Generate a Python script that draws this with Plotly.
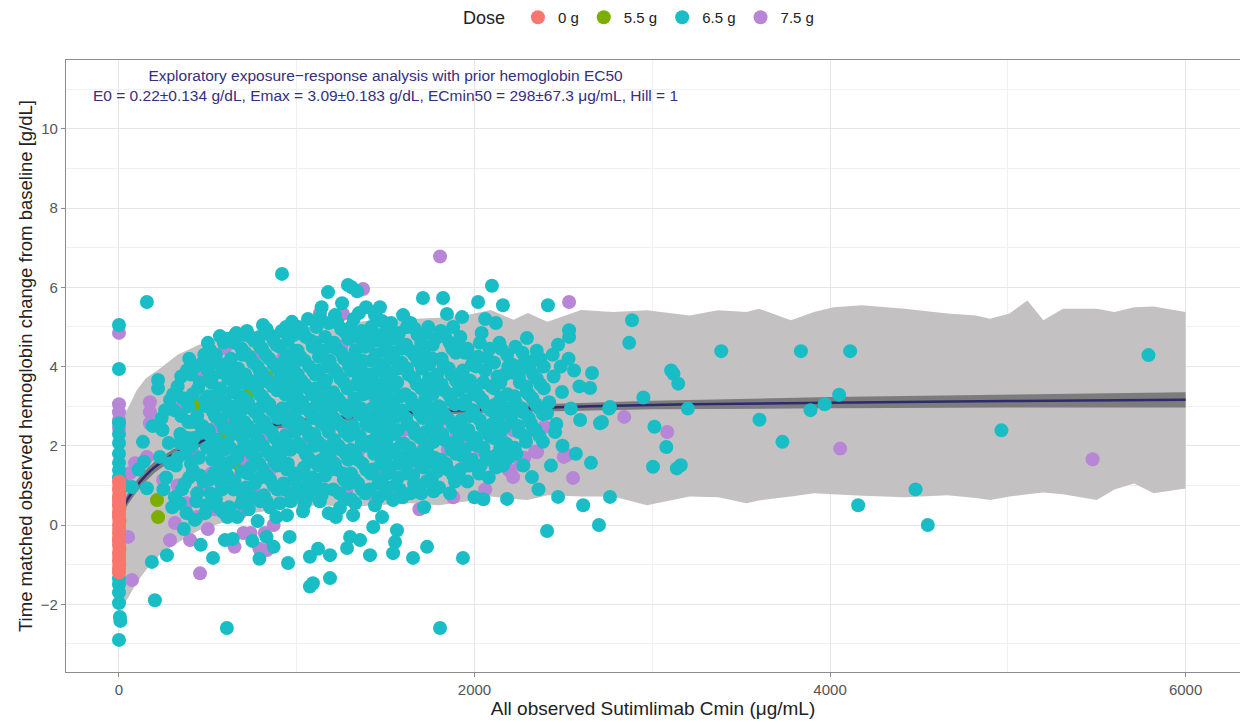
import plotly.graph_objects as go

# Prediction interval (light grey band)
pi_x = [0, 25, 50, 100, 150, 230, 330, 450, 570, 750, 950, 1130, 1300, 1470, 1640,
        1800, 1960, 2090, 2220, 2300, 2410, 2600, 2780, 2970, 3210, 3370, 3530, 3600,
        3780, 3910, 4020, 4180, 4420, 4660, 4820, 4900, 5010, 5110, 5200, 5310, 5500,
        5600, 5710, 5820, 6000]
pi_hi = [2.5, 2.75, 2.95, 3.4, 3.7, 3.95, 4.3, 4.55, 4.7, 4.85, 4.97, 5.0, 5.1, 5.2, 5.2,
         5.23, 5.3, 5.43, 5.18, 5.35, 5.13, 5.43, 5.38, 5.42, 5.29, 5.42, 5.38, 5.46,
         5.17, 5.38, 5.5, 5.55, 5.46, 5.34, 5.29, 5.21, 5.34, 5.67, 5.17, 5.46, 5.46,
         5.38, 5.5, 5.52, 5.38]
pi_lo = [-2.1, -2.0, -1.85, -1.45, -1.15, -0.75, -0.45, -0.13, 0.05, 0.3, 0.45, 0.5, 0.46,
         0.5, 0.55, 0.5, 0.6, 0.72, 0.66, 0.63, 0.75, 0.72, 0.72, 0.5, 0.72, 0.7, 0.55,
         0.62, 0.72, 0.8, 0.78, 0.74, 0.7, 0.75, 0.68, 0.63, 0.72, 0.78, 0.82, 0.78, 0.63,
         0.9, 1.05, 0.8, 0.92]

# Emax fit line and its confidence band
fit_x = [0, 25, 50, 100, 150, 200, 300, 400, 500, 750, 1000, 1500, 2000, 3000, 4000, 5000, 6000]
fit_y = [0.22, 0.46, 0.66, 0.99, 1.25, 1.46, 1.77, 1.99, 2.16, 2.43, 2.60, 2.80, 2.91, 3.03, 3.09, 3.13, 3.16]
fit_lo = [0.09, 0.33, 0.52, 0.84, 1.1, 1.32, 1.64, 1.87, 2.05, 2.33, 2.51, 2.72, 2.83, 2.92, 2.95, 2.97, 2.97]
fit_hi = [0.35, 0.6, 0.8, 1.13, 1.39, 1.6, 1.9, 2.11, 2.27, 2.53, 2.69, 2.88, 3.0, 3.14, 3.23, 3.29, 3.35]

# observed points, one list per dose
dose_0g = [(0, 1.1), (2, 1.0), (0, 0.9), (3, 0.8), (0, 0.7), (1, 0.6), (0, 0.5), (2, 0.4),
           (0, 0.3), (0, 0.2), (3, 0.1), (0, 0.0), (1, -0.1), (0, -0.2), (2, -0.3),
           (0, -0.4), (0, -0.5), (3, -0.6), (0, -0.7), (1, -0.8), (0, -0.9), (2, -1.0),
           (0, -1.1), (0, -1.2), (1, 0.65), (0, -0.35)]

dose_55g = [(439, 3.03), (473, 3.74), (793, 4.5), (680, 2.98), (664, 1.56), (214, 0.63),
            (220, 0.2), (832, 3.74), (1170, 3.23), (1395, 2.83), (720, 3.28), (973, 2.47),
            (400, 2.6), (560, 3.2), (600, 2.2)]

dose_65g = [
    (0, 5.05), (0, 3.94), (0, 2.57), (0, 2.3), (0, 2.07), (0, 1.8), (0, 1.57), (0, 1.39),
    (0, 1.2), (0, -1.35), (0, -1.5), (0, -1.7), (0, -1.97), (5, -2.32), (8, -2.42), (0, -2.9),
    (30, 1.0), (73, 0.96), (110, 1.4), (135, 2.1), (157, 0.93), (185, -0.93), (157, 5.63),
    (140, 1.6), (190, 2.5),
    (220, 3.66), (220, 3.45), (287, 3.16), (260, 2.9), (245, 2.4), (280, 2.07), (230, 1.72),
    (287, 1.56), (265, 1.2), (300, 0.45), (270, -0.76), (202, -1.9), (250, 0.9), (240, 2.7),
    (383, 3.91), (330, 3.5), (360, 3.2), (310, 2.9), (390, 2.6), (345, 2.3), (343, 2.07),
    (375, 1.8), (320, 1.5), (395, 1.2), (355, 0.9), (343, 0.55), (380, 0.3), (365, -0.1),
    (395, 4.2), (390, 3.0),
    (305, 3.3), (350, 2.75), (385, 2.2), (330, 1.7), (370, 1.05), (315, 0.7), (350, 3.75),
    (480, 4.3), (430, 4.0), (455, 3.6), (415, 3.3), (490, 3.0), (440, 2.75), (470, 2.5),
    (420, 2.2), (495, 1.95), (450, 1.7), (416, 1.39), (475, 1.1), (440, 0.8), (427, 0.13),
    (490, 0.5), (460, -0.5), (410, 2.0), (500, 3.9),
    (405, 3.8), (445, 3.45), (485, 3.15), (425, 2.6), (465, 2.35), (405, 1.55), (455, 1.25),
    (485, 0.3), (435, 0.6), (470, 4.1),
    (568, 4.77), (512, 4.42), (590, 4.6), (540, 4.1), (580, 3.85), (520, 3.6), (560, 3.35),
    (595, 3.1), (530, 2.85), (575, 2.6), (505, 2.4), (550, 2.15), (590, 1.9), (525, 1.65),
    (565, 1.4), (510, 1.15), (580, 0.9), (545, 0.65), (585, 0.33), (596, -0.38), (529, -0.83),
    (530, 2.0), (550, 3.0), (607, -2.6),
    (500, 4.6), (545, 4.3), (585, 4.05), (525, 3.75), (570, 3.45), (505, 3.25), (540, 2.75),
    (590, 2.45), (515, 2.25), (560, 1.8), (595, 1.55), (535, 1.3), (575, 1.05), (515, 0.8),
    (560, 0.45),
    (610, 4.7), (660, 4.85), (690, 4.45), (630, 4.2), (670, 3.95), (615, 3.7), (650, 3.5),
    (685, 3.25), (625, 3.0), (660, 2.75), (695, 2.5), (640, 2.3), (610, 2.05), (675, 1.85),
    (630, 1.6), (690, 1.35), (650, 1.1), (698, 0.71), (620, 0.45), (665, 0.2), (640, -0.35),
    (605, 4.0), (690, 2.9), (605, 1.5),
    (650, 4.6), (695, 4.3), (625, 4.1), (665, 3.8), (700, 3.6), (635, 3.35), (680, 3.1),
    (615, 2.85), (655, 2.6), (695, 2.2), (625, 1.95), (665, 1.7), (610, 1.25), (645, 0.9),
    (690, 0.55), (610, 0.2),
    (720, 4.9), (760, 4.65), (795, 4.5), (735, 4.25), (780, 4.0), (710, 3.8), (750, 3.55),
    (790, 3.3), (725, 3.1), (765, 2.85), (705, 2.6), (745, 2.4), (785, 2.15), (720, 1.95),
    (770, 1.7), (740, 1.45), (795, 1.2), (715, 0.95), (760, 0.7), (730, 0.4), (780, 0.1),
    (750, -0.4), (790, -0.85), (790, 3.6), (760, 2.0), (700, 4.8),
    (740, 4.75), (790, 4.75), (710, 4.35), (755, 4.1), (795, 3.85), (735, 3.65), (775, 3.45),
    (705, 3.2), (745, 2.95), (790, 2.7), (725, 2.5), (770, 2.25), (705, 2.05), (745, 1.8),
    (790, 1.55), (725, 1.3), (765, 1.05), (705, 0.7), (795, 0.6),
    (810, 5.05), (850, 4.8), (885, 4.55), (825, 4.3), (870, 4.05), (805, 3.85), (845, 3.6),
    (890, 3.4), (820, 3.15), (860, 2.9), (895, 2.7), (835, 2.45), (875, 2.2), (810, 2.0),
    (855, 1.75), (890, 1.5), (830, 1.25), (870, 1.0), (815, 0.75), (850, 0.45), (885, 0.2),
    (830, -0.3), (870, -0.55), (805, 3.0), (805, 2.5), (895, 4.0),
    (830, 4.95), (870, 4.65), (805, 4.45), (845, 4.2), (890, 3.95), (825, 3.7), (865, 3.5),
    (805, 3.25), (845, 3.05), (885, 2.8), (820, 2.6), (860, 2.35), (895, 2.1), (835, 1.85),
    (875, 1.6), (810, 1.4), (850, 1.15), (890, 0.9), (830, 0.6),
    (917, 6.34), (973, 5.13), (915, 4.9), (950, 4.65), (990, 4.4), (930, 4.15), (965, 3.9),
    (905, 3.7), (945, 3.45), (985, 3.2), (920, 2.95), (960, 2.7), (995, 2.47), (935, 2.25),
    (975, 2.0), (910, 1.8), (950, 1.55), (990, 1.3), (925, 1.05), (965, 0.8), (905, 0.55),
    (945, 0.25), (951, -0.96), (960, -0.3), (1000, 3.0), (900, 2.0),
    (940, 5.0), (985, 4.8), (905, 4.5), (945, 4.3), (985, 4.05), (920, 3.8), (960, 3.6),
    (1000, 3.4), (935, 3.3), (975, 3.05), (910, 2.85), (950, 2.6), (990, 2.35), (925, 2.1),
    (965, 1.9), (905, 1.65), (945, 1.4), (985, 1.15), (925, 0.9), (965, 0.6),
    (1063, 5.2), (1010, 5.0), (1050, 4.75), (1090, 4.5), (1020, 4.25), (1070, 4.0),
    (1005, 3.8), (1045, 3.55), (1085, 3.3), (1030, 3.1), (1075, 2.85), (1010, 2.6),
    (1055, 2.4), (1095, 2.15), (1025, 1.95), (1065, 1.7), (1040, 1.45), (1085, 1.2),
    (1015, 0.95), (1060, 0.7), (1035, 0.35), (1074, -0.8), (1091, -1.47), (1074, -1.55),
    (1095, 3.9), (1000, 2.9),
    (1035, 4.9), (1080, 4.65), (1005, 4.4), (1045, 4.15), (1090, 3.9), (1025, 3.65),
    (1065, 3.45), (1005, 3.2), (1050, 2.95), (1090, 2.7), (1030, 2.5), (1070, 2.25),
    (1010, 2.05), (1050, 1.8), (1090, 1.6), (1025, 1.3), (1065, 1.05), (1005, 0.8),
    (1045, 0.55), (1090, 0.9),
    (1176, 5.88), (1140, 5.5), (1110, 5.0), (1160, 4.75), (1195, 4.5), (1125, 4.25),
    (1170, 4.0), (1105, 3.8), (1150, 3.55), (1190, 3.3), (1115, 3.05), (1160, 2.8),
    (1135, 2.6), (1180, 2.35), (1120, 2.1), (1165, 1.9), (1140, 1.65), (1190, 1.4),
    (1110, 1.15), (1155, 0.9), (1130, 0.6), (1180, 0.3), (1187, -1.34), (1187, -0.76),
    (1120, -0.6), (1100, 2.0),
    (1130, 5.25), (1180, 5.1), (1105, 4.6), (1145, 4.4), (1185, 4.15), (1125, 3.9),
    (1165, 3.65), (1105, 3.45), (1140, 3.2), (1185, 2.95), (1125, 2.7), (1165, 2.5),
    (1100, 2.3), (1145, 2.0), (1185, 1.75), (1120, 1.5), (1160, 1.25), (1100, 0.95),
    (1140, 0.75),
    (1288, 6.06), (1255, 5.6), (1215, 5.3), (1250, 4.95), (1290, 4.7), (1225, 4.45),
    (1265, 4.2), (1205, 3.95), (1245, 3.7), (1285, 3.45), (1230, 3.2), (1270, 2.95),
    (1210, 2.7), (1255, 2.5), (1295, 2.25), (1235, 2.0), (1275, 1.8), (1215, 1.55),
    (1260, 1.3), (1290, 1.05), (1240, 0.8), (1243, 0.43), (1220, 0.2), (1283, -0.58),
    (1300, -0.3), (1205, 3.0), (1295, 4.0),
    (1230, 5.1), (1275, 4.85), (1210, 4.6), (1250, 4.35), (1290, 4.1), (1225, 3.85),
    (1265, 3.6), (1205, 3.35), (1245, 3.1), (1290, 2.85), (1230, 2.6), (1270, 2.35),
    (1210, 2.15), (1250, 1.9), (1290, 1.65), (1225, 1.4), (1265, 1.15), (1205, 0.9),
    (1270, 0.65),
    (1310, 6.0), (1340, 5.9), (1390, 5.5), (1320, 5.2), (1365, 4.9), (1395, 4.65),
    (1330, 4.4), (1370, 4.15), (1305, 3.9), (1350, 3.7), (1385, 3.45), (1325, 3.2),
    (1360, 2.95), (1395, 2.7), (1315, 2.5), (1355, 2.25), (1390, 2.0), (1330, 1.8),
    (1370, 1.55), (1305, 1.3), (1345, 1.05), (1385, 0.8), (1328, 0.55), (1317, 0.25),
    (1356, -0.38), (1412, -0.76), (1300, 3.0),
    (1350, 5.35), (1305, 5.0), (1345, 4.75), (1385, 4.5), (1320, 4.25), (1360, 4.0),
    (1400, 3.8), (1335, 3.55), (1375, 3.3), (1310, 3.05), (1350, 2.8), (1390, 2.55),
    (1325, 2.35), (1365, 2.1), (1305, 1.9), (1345, 1.65), (1390, 1.4), (1325, 1.15),
    (1365, 0.9), (1305, 0.65),
    (1468, 5.5), (1480, 5.15), (1410, 4.9), (1455, 4.65), (1495, 4.4), (1420, 4.15),
    (1465, 3.9), (1405, 3.7), (1445, 3.45), (1490, 3.2), (1425, 2.95), (1470, 2.7),
    (1410, 2.5), (1450, 2.25), (1495, 2.0), (1435, 1.8), (1475, 1.55), (1415, 1.3),
    (1460, 1.05), (1500, 0.8), (1440, 0.5), (1430, -0.05), (1480, 0.2), (1500, 2.6),
    (1440, 5.3), (1420, 5.0), (1470, 4.8), (1405, 4.55), (1445, 4.3), (1490, 4.05),
    (1425, 3.8), (1470, 3.55), (1410, 3.35), (1450, 3.1), (1495, 2.85), (1430, 2.6),
    (1475, 2.35), (1410, 2.1), (1455, 1.9), (1495, 1.65), (1430, 1.4), (1475, 1.15),
    (1410, 0.9), (1460, 0.7),
    (1598, 5.3), (1510, 4.95), (1550, 4.7), (1590, 4.45), (1525, 4.2), (1570, 3.95),
    (1505, 3.75), (1545, 3.5), (1585, 3.25), (1520, 3.0), (1565, 2.75), (1505, 2.5),
    (1545, 2.3), (1590, 2.05), (1530, 1.8), (1575, 1.55), (1510, 1.3), (1555, 1.0),
    (1595, 0.7), (1542, 0.63), (1564, -0.13), (1553, -0.43), (1542, -0.71), (1600, 4.0),
    (1530, 5.1), (1575, 4.85), (1505, 4.6), (1545, 4.35), (1590, 4.1), (1525, 3.85),
    (1565, 3.6), (1505, 3.4), (1545, 3.15), (1590, 2.9), (1525, 2.65), (1570, 2.4),
    (1505, 2.15), (1550, 1.9), (1590, 1.7), (1525, 1.45), (1570, 1.2), (1510, 0.95),
    (1580, 0.9),
    (1710, 5.73), (1640, 5.1), (1680, 4.8), (1615, 4.55), (1660, 4.3), (1700, 4.05),
    (1630, 3.8), (1675, 3.55), (1610, 3.3), (1650, 3.05), (1695, 2.8), (1625, 2.55),
    (1665, 2.3), (1605, 2.05), (1645, 1.8), (1690, 1.55), (1620, 1.3), (1660, 1.05),
    (1700, 0.8), (1716, 0.45), (1654, -0.83), (1733, -0.55),
    (1620, 5.0), (1665, 4.95), (1700, 4.6), (1640, 4.4), (1680, 4.15), (1620, 3.95),
    (1660, 3.7), (1700, 3.45), (1640, 3.2), (1680, 2.95), (1615, 2.7), (1655, 2.45),
    (1695, 2.2), (1635, 1.95), (1675, 1.7), (1615, 1.5), (1655, 1.25), (1695, 1.0),
    (1640, 0.8),
    (1823, 5.73), (1740, 5.0), (1780, 4.7), (1720, 4.45), (1765, 4.2), (1705, 3.95),
    (1745, 3.7), (1790, 3.45), (1725, 3.2), (1770, 2.95), (1710, 2.7), (1755, 2.45),
    (1795, 2.2), (1735, 1.95), (1775, 1.7), (1715, 1.45), (1760, 1.2), (1800, 0.95),
    (1800, 3.0), (1806, -2.6),
    (1725, 4.85), (1765, 4.55), (1705, 4.3), (1745, 4.05), (1790, 3.8), (1725, 3.55),
    (1765, 3.3), (1705, 3.05), (1745, 2.8), (1790, 2.6), (1725, 2.35), (1770, 2.1),
    (1705, 1.85), (1750, 1.6), (1790, 1.35), (1730, 1.1), (1770, 0.85),
    (1845, 5.33), (1880, 5.0), (1810, 4.9), (1860, 4.6), (1895, 4.35), (1825, 4.05),
    (1870, 3.8), (1815, 3.55), (1855, 3.3), (1890, 3.05), (1830, 2.8), (1875, 2.55),
    (1820, 2.3), (1860, 2.05), (1895, 1.8), (1840, 1.55), (1880, 1.25), (1862, 0.8),
    (1935, -0.83),
    (1835, 4.75), (1875, 4.45), (1815, 4.2), (1855, 3.95), (1895, 3.65), (1830, 3.4),
    (1870, 3.15), (1810, 2.95), (1850, 2.7), (1890, 2.45), (1830, 2.15), (1870, 1.9),
    (1810, 1.65), (1850, 1.4), (1890, 1.1),
    (1930, 5.25), (2020, 5.63), (1920, 4.75), (1960, 4.45), (1995, 4.2), (1935, 3.9),
    (1975, 3.65), (1910, 3.4), (1950, 3.15), (1990, 2.9), (1925, 2.65), (1965, 2.4),
    (1905, 2.15), (1945, 1.9), (1985, 1.65), (1920, 1.4), (1960, 1.1), (2000, 0.7),
    (1905, 4.6), (1945, 4.35), (1985, 4.05), (1920, 3.8), (1960, 3.5), (2000, 3.3),
    (1935, 3.05), (1975, 2.75), (1910, 2.55), (1950, 2.3), (1990, 2.05), (1930, 1.75),
    (1970, 1.5), (1910, 1.25),
    (2098, 6.04), (2060, 5.2), (2030, 4.6), (2070, 4.22), (2010, 4.0), (2050, 3.6),
    (2095, 3.5), (2025, 3.25), (2070, 3.0), (2005, 2.75), (2045, 2.5), (2085, 2.25),
    (2020, 2.0), (2065, 1.75), (2035, 1.5), (2080, 1.2), (2050, 0.65),
    (2040, 4.85), (2085, 4.45), (2020, 4.25), (2060, 3.9), (2005, 3.4), (2045, 3.15),
    (2090, 2.9), (2030, 2.65), (2070, 2.4), (2010, 2.2), (2050, 1.95), (2090, 1.65),
    (2025, 1.3),
    (2160, 5.55), (2183, 4.29), (2130, 3.75), (2170, 3.8), (2110, 3.45), (2150, 3.2),
    (2195, 2.95), (2125, 2.7), (2165, 2.45), (2105, 2.2), (2145, 1.95), (2190, 1.7),
    (2120, 1.45), (2183, 0.66), (2120, 5.1), (2140, 4.6),
    (2150, 4.45), (2110, 4.1), (2190, 4.0), (2145, 3.6), (2185, 3.3), (2120, 3.05),
    (2160, 2.8), (2100, 2.55), (2140, 2.3), (2180, 2.05), (2120, 1.75), (2160, 1.5),
    (2295, 4.72), (2240, 4.0), (2280, 4.1), (2215, 3.85), (2255, 3.6), (2295, 3.35),
    (2230, 3.1), (2270, 2.85), (2210, 2.6), (2250, 2.35), (2290, 2.1), (2235, 1.8),
    (2275, 1.5), (2323, 1.21),
    (2230, 4.5), (2270, 4.35), (2210, 4.05), (2250, 3.75), (2290, 3.5), (2225, 3.25),
    (2265, 2.95), (2205, 2.75), (2245, 2.5), (2285, 2.25), (2225, 1.95),
    (2330, 4.15), (2370, 4.2), (2310, 3.95), (2350, 3.7), (2390, 3.45), (2325, 3.2),
    (2365, 2.95), (2305, 2.7), (2345, 2.4), (2385, 2.1), (2360, 0.9),
    (2350, 4.4), (2390, 4.0), (2330, 3.8), (2370, 3.55), (2305, 3.3), (2345, 3.05),
    (2385, 2.8), (2320, 2.55), (2365, 2.25),
    (2413, 5.55), (2440, 4.3), (2470, 4.55), (2485, 4.0), (2445, 3.75), (2492, 3.36),
    (2420, 3.1), (2408, 2.82), (2460, 2.55), (2453, 2.35), (2495, 2.0), (2470, 0.71),
    (2408, -0.15), (2430, 1.5),
    (2532, 4.92), (2532, 4.75), (2529, 4.2), (2560, 3.9), (2590, 3.5), (2542, 2.94),
    (2594, 2.65), (2611, 0.5), (2570, 1.8),
    (2661, 3.84), (2650, 3.46), (2655, 1.57), (2757, 2.94), (2706, 2.57), (2762, 0.71),
    (2700, 0.0), (2717, 2.6), (2762, 2.98),
    (2886, 5.17), (2870, 4.6), (2950, 3.22), (3004, 1.47), (3012, 2.48), (3079, 1.97),
    (3106, 3.9), (3119, 3.82), (3146, 3.57), (3138, 1.43), (3160, 1.51), (3200, 2.94),
    (3388, 4.39), (3603, 2.66), (3732, 2.1), (3836, 4.39), (3890, 2.9), (3970, 3.05),
    (4051, 3.29), (4113, 4.39), (4158, 0.5), (4481, 0.9), (4550, 0.0), (4964, 2.39),
    (5791, 4.29),
]

dose_75g = [
    (0, 4.85), (0, 3.05), (0, 2.85), (0, 2.65), (0, 2.45), (51, -0.3), (73, -1.39),
    (90, 1.56), (62, 1.31), (157, 1.72), (174, 3.1), (174, 2.85), (174, 2.57), (248, 1.14),
    (287, -0.38), (315, 0.05), (360, 3.08), (400, -0.38), (456, -1.22), (330, 1.0),
    (380, 0.55), (420, 1.8), (440, 0.2), (470, 0.9), (500, -0.1), (520, 1.3), (540, 0.4),
    (596, 4.47), (607, 2.73), (630, 2.9), (652, 4.8), (680, 0.3), (700, -0.2), (720, 1.6),
    (754, 4.22), (760, 0.8), (790, -0.6), (800, 2.2), (820, -0.2), (833, -0.63),
    (850, 1.4), (870, 0.0), (923, 4.22), (940, 2.3), (973, 3.66), (1000, 1.0), (1040, 0.6),
    (1080, 2.1), (1131, 5.35), (1170, 3.28), (1200, 1.6), (1243, 2.53), (1260, 5.33),
    (1280, 0.9), (1330, 4.6), (1350, 1.9), (1373, 5.96), (1400, 0.8), (1420, 3.3),
    (1460, 2.2), (1500, 1.3), (1530, 3.8), (1560, 0.9), (1600, 2.4), (1650, 1.6),
    (1690, 0.4), (1720, 2.0), (1760, 1.1), (1806, 6.78), (1800, 2.6), (1850, 1.9),
    (1880, 0.7), (1900, 2.3), (1950, 1.5), (1975, 2.02), (1990, 2.9), (2030, 1.9),
    (2060, 0.9), (2100, 2.4), (2150, 2.2), (2193, 1.39), (2217, 1.21), (2220, 2.39),
    (2256, 1.52), (2280, 1.7), (2341, 1.85), (2352, 1.84), (2394, 2.48), (2502, 1.72),
    (2520, 1.77), (2554, 1.19), (2532, 5.63), (2842, 2.73), (3084, 2.35), (4057, 1.93),
    (5477, 1.66), (460, 3.9), (550, 2.5), (620, 1.2), (650, -0.55), (740, -0.2),
    (1250, 4.5), (1570, 4.7), (2140, 1.5), (2170, 1.9),
]

doses = [
    # label, points, colour, legend position
    ("5.5 g", dose_55g, "#7CAE00", 2),
    ("7.5 g", dose_75g, "#B886D6", 4),
    ("6.5 g", dose_65g, "#19BDC6", 3),
    ("0 g", dose_0g, "#F8766D", 1),
]

fig = go.Figure()

# prediction band
fig.add_trace(go.Scatter(
    x=pi_x + pi_x[::-1], y=pi_hi + pi_lo[::-1],
    fill="toself", fillcolor="#C4C1C2", line=dict(width=0),
    mode="lines", showlegend=False, hoverinfo="skip"))

# confidence band around the fit
fig.add_trace(go.Scatter(
    x=fit_x + fit_x[::-1], y=fit_hi + fit_lo[::-1],
    fill="toself", fillcolor="rgba(100,100,100,0.75)", line=dict(width=0),
    mode="lines", showlegend=False, hoverinfo="skip"))

fig.add_trace(go.Scatter(
    x=fit_x, y=fit_y, mode="lines", line=dict(color="#2E2A70", width=2.5),
    line_shape="spline", showlegend=False))

for name, pts, col, rank in doses:
    fig.add_trace(go.Scatter(
        x=[p[0] for p in pts], y=[p[1] for p in pts],
        mode="markers", name=name, legendrank=rank,
        marker=dict(color=col, size=14, line=dict(width=0))))

fig.add_annotation(
    x=1500, y=11.1, xref="x", yref="y", showarrow=False, align="center",
    text="Exploratory exposure\u2212response analysis with prior hemoglobin EC50<br>"
         "E0 = 0.22\u00b10.134 g/dL, Emax = 3.09\u00b10.183 g/dL, ECmin50 = 298\u00b167.3 \u03bcg/mL, Hill = 1",
    font=dict(family="Liberation Sans, Arial", size=15.5, color="#352F7C"))

# the page body adds an 8px offset, so the figure is 8px smaller than the window
fig.update_layout(
    width=1240, height=715,
    margin=dict(l=58, r=8, t=52, b=51, autoexpand=False),
    paper_bgcolor="white", plot_bgcolor="white",
    font=dict(family="Liberation Sans, Arial", color="#333333"),
    legend=dict(
        orientation="h", x=0.51, xanchor="center", xref="container",
        y=0.986, yanchor="middle", yref="container",
        title=dict(text="Dose ", font=dict(size=18, color="#222222")),
        font=dict(size=15, color="#222222"), itemwidth=30, traceorder="normal"),
)

fig.update_xaxes(
    range=[-298, 6306], tickvals=[0, 2000, 4000, 6000], automargin=False,
    showgrid=True, gridcolor="#E6E6E6", gridwidth=1, zeroline=False,
    minor=dict(tickvals=[1000, 3000, 5000], showgrid=True, gridcolor="#F0F0F0"),
    showline=True, mirror=True, linecolor="#8C8C8C", linewidth=1.2,
    ticks="outside", ticklen=4, tickcolor="#8C8C8C",
    tickfont=dict(size=15, color="#555555"),
    title=dict(text="All observed Sutimlimab Cmin (\u03bcg/mL)", font=dict(size=19, color="#222222"),
               standoff=3))

fig.update_yaxes(
    range=[-3.71, 11.74], tickvals=[-2, 0, 2, 4, 6, 8, 10], automargin=False,
    showgrid=True, gridcolor="#E6E6E6", gridwidth=1, zeroline=False,
    minor=dict(tickvals=[-3, -1, 1, 3, 5, 7, 9, 11], showgrid=True, gridcolor="#F0F0F0"),
    showline=True, mirror=True, linecolor="#8C8C8C", linewidth=1.2,
    ticks="outside", ticklen=4, tickcolor="#8C8C8C",
    tickfont=dict(size=15, color="#555555"),
    title=dict(text="Time matched observed hemoglobin change from baseline [g/dL]",
               font=dict(size=18.5, color="#222222"), standoff=3))

fig.write_html("out.html")
